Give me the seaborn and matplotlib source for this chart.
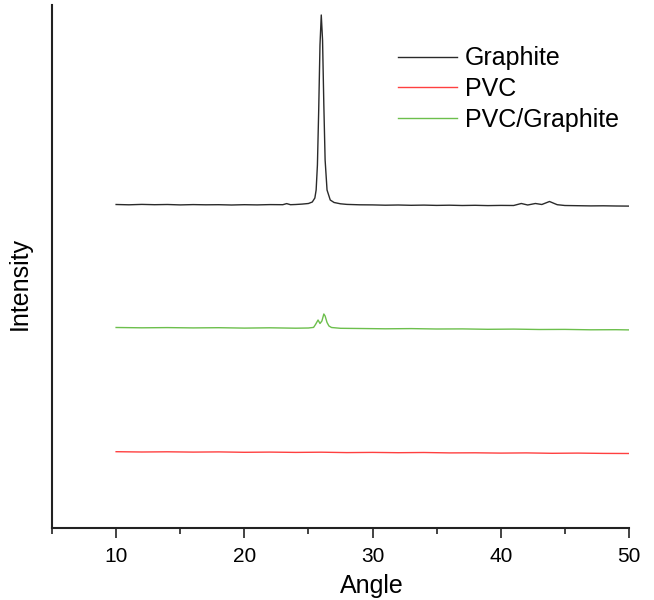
import matplotlib
matplotlib.use('Agg')

import matplotlib.pyplot as plt
import seaborn as sns
import pandas as pd

# XRD patterns (intensity in arbitrary units above each baseline)
graphite_angle = [10, 11, 12, 13, 14, 15, 16, 17, 18, 19, 20, 21, 22, 23, 23.3, 23.6, 24,
                  24.5, 25, 25.3, 25.5, 25.6, 25.7, 25.8, 25.9, 26.0, 26.1, 26.2, 26.3,
                  26.45, 26.7, 27, 27.5, 28, 29, 30, 31, 32, 33, 34, 35, 36, 37, 38, 39,
                  40, 41, 41.6, 42.1, 42.7, 43.2, 43.8, 44.4, 45, 46, 47, 48, 49, 50]
graphite_int = [0.5, 0.2, 0.6, 0.3, 0.5, 0.1, 0.4, 0.2, 0.3, 0.0, 0.3, 0.1, 0.4, 0.3, 1.4, 0.3, 0.5,
                0.9, 1.5, 3, 7, 15, 40, 95, 160, 190, 165, 100, 45,
                15, 5, 2.5, 1.2, 0.6, 0.2, 0.1, -0.2, 0.0, -0.3, -0.1, -0.4, -0.2, -0.5, -0.3, -0.6,
                -0.4, -0.5, 1.5, 0.0, 1.5, 0.5, 3.5, 0.3, -0.5, -0.7, -0.9, -0.8, -1.0, -1.1]

pvc_angle = [10, 12, 14, 16, 18, 20, 22, 24, 26, 28, 30, 32, 34, 36, 38, 40, 42, 44, 46, 48, 50]
pvc_int = [0.3, 0.0, 0.2, -0.1, 0.1, -0.3, -0.1, -0.4, -0.2, -0.6, -0.4, -0.7, -0.5, -0.9, -0.8,
           -1.1, -0.9, -1.3, -1.1, -1.4, -1.5]

composite_angle = [10, 12, 14, 16, 18, 20, 22, 24, 25, 25.4, 25.55, 25.75, 25.9, 26.05, 26.2,
                   26.3, 26.45, 26.6, 26.8, 27.5, 29, 31, 33, 35, 37, 39, 41, 43, 45, 47, 49, 50]
composite_int = [0.5, 0.2, 0.4, 0.1, 0.3, -0.1, 0.2, -0.2, 0.0, 0.6, 3.5, 8, 4.5, 7, 14,
                 12, 5.5, 2, 0.5, -0.3, -0.5, -0.8, -0.6, -1.0, -0.9, -1.3, -1.1, -1.5, -1.4, -1.8, -1.7, -1.9]

# vertical stacking of the patterns
offsets = {"Graphite": 323, "PVC": 76, "PVC/Graphite": 200}
colors = {"Graphite": "#2a2a2a", "PVC": "#ff4040", "PVC/Graphite": "#6cbf4c"}

plt.rcParams['font.family'] = ['Liberation Sans', 'DejaVu Sans']

fig = plt.figure(figsize=(6.54, 6), dpi=100)
ax = fig.add_axes([52 / 654, 1 - 528 / 600, 577 / 654, 523 / 600])

series = [("Graphite", graphite_angle, graphite_int),
          ("PVC", pvc_angle, pvc_int),
          ("PVC/Graphite", composite_angle, composite_int)]
for name, ang, inten in series:
    df = pd.DataFrame({"Angle": ang, "Intensity": inten})
    df["Intensity"] = df["Intensity"] + offsets[name]
    sns.lineplot(data=df, x="Angle", y="Intensity", ax=ax, color=colors[name],
                 linewidth=1.0, label=name, sort=False)

ax.set_xlim(5, 50)
ax.set_ylim(0, 523)
ax.set_xticks([10, 20, 30, 40, 50])
ax.set_xticks([5, 15, 25, 35, 45], minor=True)
ax.set_yticks([])
ax.tick_params(axis='x', which='major', direction='out', length=7.5, width=1.2,
               labelsize=15, pad=6, color='#222222')
ax.tick_params(axis='x', which='minor', direction='out', length=4, width=1.2, color='#222222')
for side in ['top', 'right']:
    ax.spines[side].set_visible(False)
for side in ['left', 'bottom']:
    ax.spines[side].set_linewidth(1.5)
    ax.spines[side].set_color('#222222')

ax.set_xlabel("Angle", fontsize=18)
ax.set_ylabel("Intensity", fontsize=18)
ax.xaxis.set_label_coords(0.555, -0.088)
ax.yaxis.set_label_coords(-0.035, 0.468)

ax.legend(loc='upper left', bbox_to_anchor=(0.5815, 0.94), frameon=False, fontsize=18,
          handlelength=2.36, handletextpad=0.32, labelspacing=0.27, borderaxespad=0)

plt.savefig("out.png", dpi=100)
plt.close()
